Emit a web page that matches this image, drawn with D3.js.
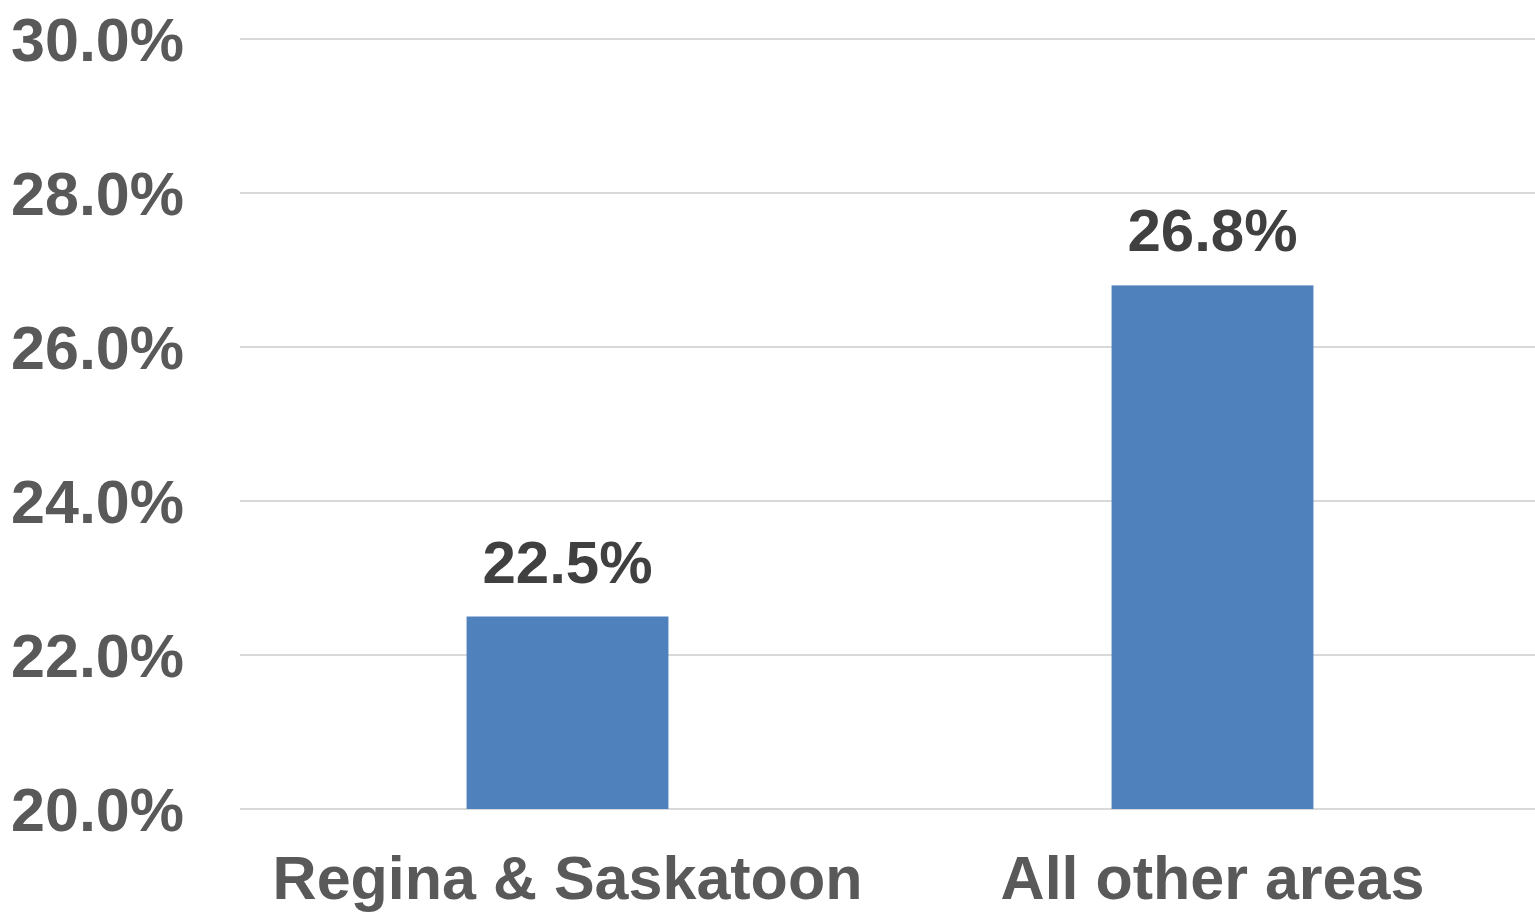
<!DOCTYPE html>
<html>
<head>
<meta charset="utf-8">
<script src="https://cdn.jsdelivr.net/npm/d3@7"></script>
<style>
  body { margin: 0; background: #fff; }
  svg { display: block; font-family: "Liberation Sans", Arial, sans-serif; }
</style>
</head>
<body>
<svg id="chart" width="1535" height="913"></svg>
<script>
const categories = ["Regina & Saskatoon", "All other areas"];
const values = [22.5, 26.8];
const yTicks = [20, 22, 24, 26, 28, 30];

const svg = d3.select("#chart");

const x = d3
  .scaleBand()
  .domain(categories)
  .range([245, 1535])
  .paddingInner(0.687)
  .paddingOuter(0.3435);

const y = d3.scaleLinear().domain([20, 30]).range([809, 39]);

// gridlines
svg.append("g")
  .selectAll("line")
  .data(yTicks)
  .enter()
  .append("line")
  .attr("x1", 240)
  .attr("x2", 1535)
  .attr("y1", (d) => y(d))
  .attr("y2", (d) => y(d))
  .attr("stroke", "#d9d9d9")
  .attr("stroke-width", 2);

// y tick labels
svg.append("g")
  .selectAll("text")
  .data(yTicks)
  .enter()
  .append("text")
  .attr("x", 184)
  .attr("y", (d) => y(d) + 22)
  .attr("text-anchor", "end")
  .attr("font-size", 61)
  .attr("font-weight", "bold")
  .attr("fill", "#595959")
  .text((d) => d.toFixed(1) + "%");

// bars
svg.append("g")
  .selectAll("rect")
  .data(values)
  .enter()
  .append("rect")
  .attr("x", (d, i) => x(categories[i]))
  .attr("y", (d) => y(d))
  .attr("width", x.bandwidth())
  .attr("height", (d) => y(20) - y(d))
  .attr("fill", "#4f81bd");

// value labels
svg.append("g")
  .selectAll("text")
  .data(values)
  .enter()
  .append("text")
  .attr("x", (d, i) => x(categories[i]) + x.bandwidth() / 2)
  .attr("y", (d) => y(d) - 34)
  .attr("text-anchor", "middle")
  .attr("font-size", 60)
  .attr("font-weight", "bold")
  .attr("fill", "#404040")
  .text((d) => d.toFixed(1) + "%");

// category labels
svg.append("g")
  .selectAll("text")
  .data(categories)
  .enter()
  .append("text")
  .attr("x", (d) => x(d) + x.bandwidth() / 2)
  .attr("y", 899)
  .attr("text-anchor", "middle")
  .attr("font-size", 61)
  .attr("font-weight", "bold")
  .attr("fill", "#595959")
  .text((d) => d);
</script>
</body>
</html>
